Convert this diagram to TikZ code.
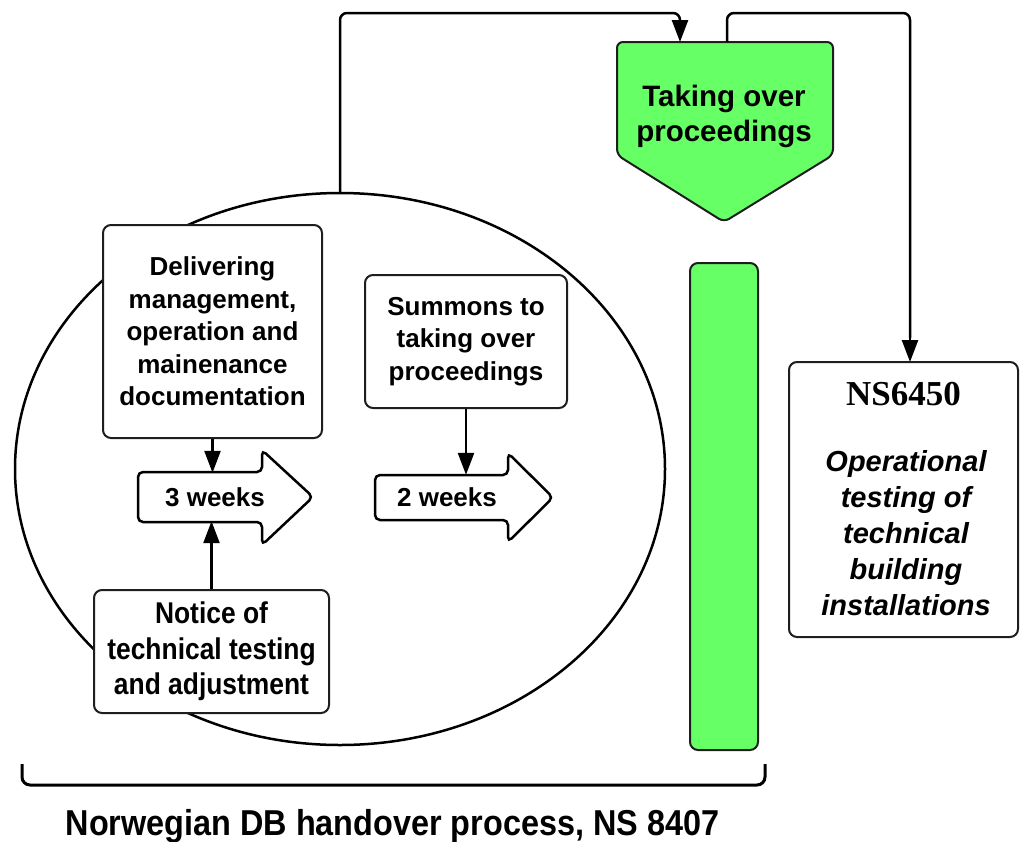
\documentclass[tikz,border=0pt]{standalone}
\usepackage{fontspec}
\setmainfont{Liberation Sans}
\newfontfamily\condfont{Liberation Sans}[FakeStretch=0.88]
\newfontfamily\labfont{Liberation Sans}[FakeStretch=0.9]
\newfontfamily\nsfont{Liberation Serif}
\usetikzlibrary{arrows.meta,shapes.geometric,calc}
\definecolor{grn}{HTML}{66FF66}
\definecolor{linec}{HTML}{1E1E1E}
\begin{document}
\begin{tikzpicture}[x=1pt,y=-1pt,
  box/.style={draw=linec, line width=2pt, rounded corners=8pt, fill=white,
    font=\bfseries\fontsize{26}{32.5}\selectfont, align=center, inner sep=0pt},
  arr/.style={draw=black, line width=2.5pt, -{Triangle[length=22pt,width=16pt]}},
  conn/.style={draw=black, line width=2.5pt, rounded corners=7pt},
  barrow/.style={draw=black, line width=2.5pt, fill=white, rounded corners=5pt},
  wtext/.style={font=\bfseries\fontsize{26}{30}\selectfont, inner sep=0pt, minimum height=48pt},
  gfill/.style={draw=linec, line width=2pt, fill=grn}
]
\useasboundingbox (0,0) rectangle (1020,841);

% big ellipse
\node[draw=black, ellipse, line width=2.5pt, minimum width=650pt, minimum height=552pt, inner sep=0pt] (ell) at (340,469) {};

% boxes inside
\node[box, minimum width=219pt, minimum height=213pt] (dl) at (212.5,331.5)
  {Delivering\\management,\\operation and\\mainenance\\documentation};
\node[box, minimum width=202pt, minimum height=133pt] (sm) at (466,341.5)
  {Summons to\\taking over\\proceedings};
\node[box, minimum width=235pt, minimum height=123pt,
  font=\condfont\bfseries\fontsize{30}{35.5}\selectfont] (nt) at (211.5,651.5)
  {Notice of\\technical testing\\and adjustment};

% block arrows
\draw[barrow] (138,472) -- (262,472) -- (262,450) -- (313,497) -- (262,545) -- (262,522) -- (138,522) -- cycle;
\node[wtext] (w3) at (215,497) {3 weeks};
\draw[barrow] (375,475) -- (508,475) -- (508,453) -- (553,497.5) -- (508,542) -- (508,520) -- (375,520) -- cycle;
\node[wtext, minimum height=45pt] (w2) at (447,497.5) {2 weeks};

\draw[arr] (dl.south) -- (dl.south |- w3.north);
\draw[arr] (nt.north) -- (nt.north |- w3.south);
\draw[arr] (sm.south) -- (sm.south |- w2.north);

% green pentagon
\draw[gfill, rounded corners=6pt] (617,42) -- (833,42) -- (833,155) -- (724,222) -- (617,155) -- cycle;
\node[font=\bfseries\fontsize{29.5}{35}\selectfont, align=center, inner sep=0pt] (tk) at (724,116)
  {Taking over\\proceedings};
\coordinate (pin) at (680,42);
\coordinate (pout) at (727,42);

% green bar
\node[gfill, rounded corners=8pt, minimum width=68pt, minimum height=487pt, inner sep=0pt] (bar) at (724,506.5) {};

% NS6450 box
\node[box, minimum width=229pt, minimum height=275pt] (ns) at (903.5,499.5) {};
\node[font=\nsfont\bfseries\fontsize{35}{40}\selectfont, inner sep=0pt, anchor=base] (nst) at (903.5,405) {NS6450};
\node[font=\bfseries\itshape\fontsize{29}{36}\selectfont, align=center, inner sep=0pt] (nsd) at (906,533)
  {Operational\\testing of\\technical\\building\\installations};
\coordinate (nsin) at (910,362);

% top connectors
\draw[conn] (ell.north) -- (ell.north |- 0,13) -| ($(pin)+(0,-8)$);
\draw[arr] ($(pin)+(0,-10)$) -- (pin);
\draw[conn] (pout) -- (pout |- 0,13) -| ($(nsin)+(0,-24)$);
\draw[arr] ($(nsin)+(0,-26)$) -- (nsin);

% bracket
\draw[line width=3pt, rounded corners=8pt] (22,764) -- (22,785) -- (765,785) -- (765,764);
\node[font=\labfont\bfseries\fontsize{36}{40}\selectfont, inner sep=0pt, anchor=base] (lab) at (392.5,835)
  {Norwegian DB handover process, NS 8407};
\end{tikzpicture}
\end{document}
